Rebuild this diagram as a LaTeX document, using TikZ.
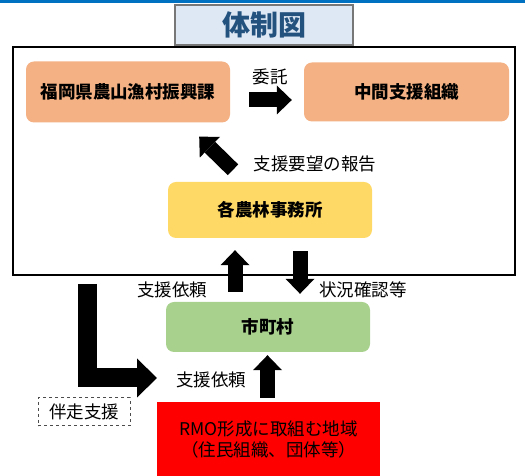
\documentclass[tikz,border=0pt]{standalone}
\usepackage{fontspec}
\setmainfont{Noto Sans CJK JP}
\usetikzlibrary{arrows.meta}
\definecolor{obiblue}{HTML}{0070C0}
\definecolor{titlefill}{HTML}{DEE8F4}
\definecolor{titletext}{HTML}{24527F}
\definecolor{titleline}{HTML}{777777}
\definecolor{kenfill}{HTML}{F4B183}
\definecolor{jimufill}{HTML}{FFD966}
\definecolor{shifill}{HTML}{A9D18E}
\definecolor{rmofill}{HTML}{FF0000}
\begin{document}
\begin{tikzpicture}[x=1pt, y=1pt,
            kikan/.style={shape=rectangle, rounded corners=8pt, minimum width=204pt, font=\fontsize{17.5}{21}\selectfont\bfseries},
            setsumei/.style={font=\fontsize{17.5}{21}\selectfont},
            yajirushi/.style={line width=15pt, -{Triangle[width=29pt, length=15pt, line width=0pt]}},
            futoyaji/.style={line width=19pt, line join=miter, -{Triangle[width=39pt, length=20pt, line width=0pt]}},
        ]
        \useasboundingbox (0,0) rectangle (525,476);
        \fill[obiblue] (0,473) rectangle (525,476);
        \draw[line width=1.2pt] (13,201) rectangle (515,429);

        \node[draw=titleline, line width=2.5pt, fill=titlefill, minimum width=178pt, minimum height=40pt, text=titletext, font=\fontsize{28}{32}\selectfont\bfseries] (title) at (264,451) {体制図};

        \node[kikan, fill=kenfill, minimum height=61pt] (ken) at (128,384) {福岡県農山漁村振興課};
        \node[kikan, fill=kenfill, minimum width=205pt, minimum height=59pt] (chukan) at (406.5,384) {中間支援組織};
        \node[kikan, fill=jimufill, minimum height=56pt] (jimusho) at (270,266) {各農林事務所};
        \node[kikan, fill=shifill, minimum height=50pt] (shichoson) at (268,149) {市町村};
        \node[fill=rmofill, minimum width=223pt, minimum height=74pt, align=center, setsumei, font=\fontsize{17.5}{21}\selectfont] (rmo) at (268.5,37) {RMO形成に取組む地域\\（住民組織、団体等）};
        \node[draw=black!70, dashed, line width=1pt, minimum width=92pt, minimum height=28pt, setsumei] (banso) at (84,64) {伴走支援};

        \node[setsumei] (itaku) at (270,399) {委託};
        \node[setsumei] (hokoku) at (315,312) {支援要望の報告};
        \node[setsumei] (irai1) at (172,186) {支援依頼};
        \node[setsumei] (kakunin) at (363,186) {状況確認等};
        \node[setsumei] (irai2) at (211,96) {支援依頼};

        \coordinate (lstart) at (87.5,192);
        \coordinate (ltip) at (157,98);

        \draw[yajirushi, shorten <=19pt, shorten >=12pt] ([yshift=-8pt]ken.east) -- ([yshift=-8pt]chukan.west);
        \draw[yajirushi] ([shift={(-37,12)}]jimusho.north) -- ([shift={(-31,-14)}]ken.south east);
        \draw[yajirushi, shorten <=10pt, shorten >=12pt] ([xshift=-33pt]shichoson.north) -- ([xshift=-35pt]jimusho.south);
        \draw[yajirushi, shorten <=13pt, shorten >=8pt] ([xshift=30pt]jimusho.south) -- ([xshift=32pt]shichoson.north);
        \draw[yajirushi, shorten <=4pt, shorten >=3pt] ([xshift=-1pt]rmo.north) -- ([xshift=-0.5pt]shichoson.south);
        \draw[futoyaji] (lstart) |- (ltip);

    \end{tikzpicture}
\end{document}
